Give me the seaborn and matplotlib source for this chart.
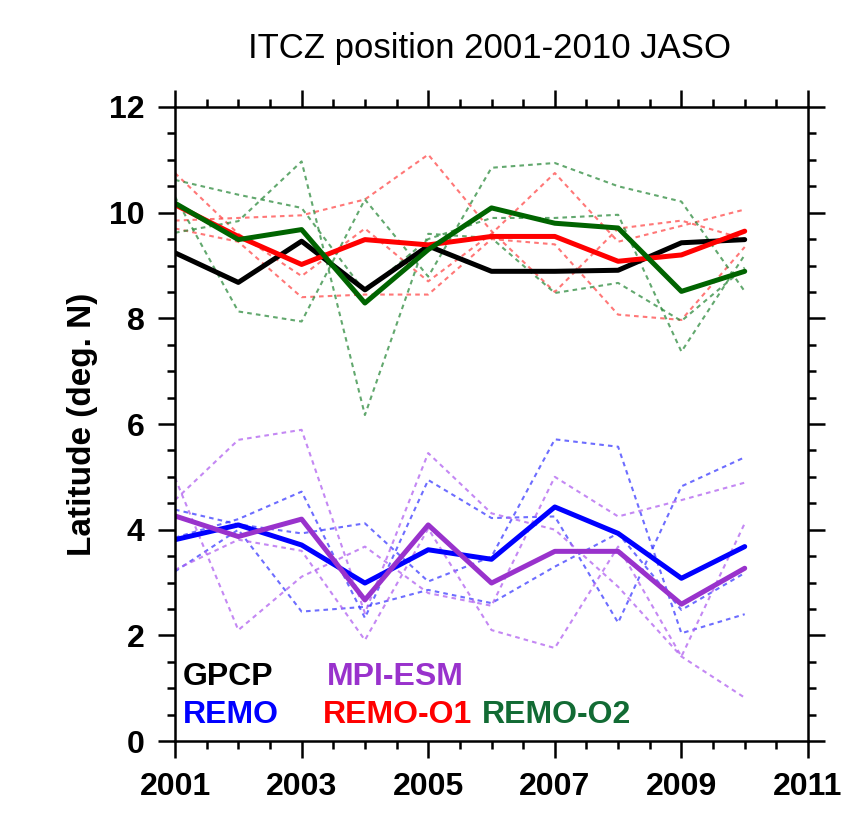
import matplotlib
matplotlib.use("Agg")
import matplotlib.pyplot as plt
from matplotlib.ticker import FixedLocator, MultipleLocator
import pandas as pd
import seaborn as sns

# years of JASO means
years = list(range(2001, 2011))
xticks = [2001, 2003, 2005, 2007, 2009, 2011]

# ensemble means (thick lines)
gpcp = [9.24, 8.68, 9.46, 8.54, 9.37, 8.89, 8.89, 8.91, 9.43, 9.49]
remo = [3.81, 4.09, 3.71, 2.99, 3.62, 3.44, 4.43, 3.93, 3.08, 3.68]
mpi_esm = [4.26, 3.87, 4.20, 2.67, 4.09, 2.99, 3.59, 3.59, 2.59, 3.27]
remo_o1 = [10.15, 9.55, 9.02, 9.49, 9.39, 9.55, 9.55, 9.08, 9.20, 9.65]
remo_o2 = [10.18, 9.49, 9.68, 8.29, 9.30, 10.09, 9.80, 9.71, 8.51, 8.89]

# single members (thin dashed lines)
remo_members = [
    [4.38, 4.10, 3.93, 4.12, 3.02, 3.49, 5.71, 5.57, 2.04, 2.40],
    [3.85, 4.20, 4.72, 2.33, 4.94, 4.22, 4.25, 2.24, 4.82, 5.37],
    [3.21, 4.00, 2.45, 2.54, 2.86, 2.61, 3.30, 3.93, 2.48, 3.18],
]
mpi_members = [
    [4.56, 5.70, 5.89, 2.42, 5.45, 4.31, 4.00, 2.92, 1.60, 0.82],
    [4.98, 2.10, 3.11, 3.68, 2.80, 2.56, 5.00, 4.25, 4.56, 4.89],
    [3.24, 3.81, 3.60, 1.91, 4.02, 2.10, 1.76, 3.68, 1.60, 4.12],
]
o1_members = [
    [10.75, 9.60, 8.80, 9.70, 8.70, 9.60, 10.75, 9.45, 9.75, 10.06],
    [9.85, 9.90, 9.95, 10.25, 11.10, 9.65, 8.50, 9.70, 9.85, 9.50],
    [9.70, 9.45, 8.40, 8.45, 8.45, 9.50, 9.40, 8.07, 7.97, 9.35],
]
o2_members = [
    [10.62, 10.34, 10.09, 8.50, 9.50, 9.90, 9.90, 9.96, 7.37, 9.20],
    [9.62, 9.84, 10.97, 6.17, 9.60, 9.52, 8.48, 8.67, 7.95, 8.96],
    [10.30, 8.13, 7.94, 10.25, 8.79, 10.85, 10.94, 10.50, 10.21, 8.51],
]

c_gpcp = "black"
c_remo = "#0000ff"
c_mpi = "#9932cc"
c_o1 = "#ff0000"
c_o2 = "#006400"

sns.set_theme(style="ticks")
plt.rcParams["font.family"] = ["Liberation Sans", "DejaVu Sans"]
plt.rcParams["text.color"] = "black"
plt.rcParams["axes.labelcolor"] = "black"

fig = plt.figure(figsize=(8.43, 8.18), dpi=100)
ax = fig.add_axes([0.2076, 0.0941, 0.7509, 0.7751])

# dashed members first
dash_sets = [
    (remo_members, "#3c3cff"),
    (mpi_members, "#b060f0"),
    (o1_members, "#ff4a4a"),
    (o2_members, "#2e8b3e"),
]
for members, col in dash_sets:
    for vals in members:
        df = pd.DataFrame({"year": years, "lat": vals})
        sns.lineplot(data=df, x="year", y="lat", ax=ax, color=col, lw=1.5,
                     alpha=0.75, legend=False)
        ax.lines[-1].set_dashes((2.2, 2.0))

# thick mean lines
for vals, col in [(gpcp, c_gpcp), (remo, c_remo), (mpi_esm, c_mpi),
                  (remo_o1, c_o1), (remo_o2, c_o2)]:
    df = pd.DataFrame({"year": years, "lat": vals})
    sns.lineplot(data=df, x="year", y="lat", ax=ax, color=col, lw=3.6,
                 legend=False)

ax.set_xlim(2001, 2011)
ax.set_ylim(0, 12)
ax.xaxis.set_major_locator(FixedLocator(xticks))
ax.xaxis.set_minor_locator(MultipleLocator(0.5))
ax.yaxis.set_major_locator(MultipleLocator(2))
ax.yaxis.set_minor_locator(MultipleLocator(0.5))
ax.tick_params(which="both", direction="out", top=True, right=True,
               width=1.8, colors="black")
ax.tick_params(which="major", length=12, labelsize=23, pad=10)
ax.tick_params(which="minor", length=6)
for lab in ax.get_xticklabels() + ax.get_yticklabels():
    lab.set_fontweight("bold")
for sp in ax.spines.values():
    sp.set_visible(True)
    sp.set_linewidth(1.8)
    sp.set_color("black")

ax.set_xlabel("")
ax.set_ylabel("Latitude (deg. N)", fontsize=24, fontweight="bold", labelpad=8)
fig.text(0.581, 0.941, "ITCZ position 2001-2010 JASO", fontsize=25,
         ha="center", va="center")

# in-plot labels
lab_kw = dict(fontsize=23, fontweight="bold", va="baseline", ha="left")
ax.text(2001.13, 1.06, "GPCP", color=c_gpcp, **lab_kw)
ax.text(2003.4, 1.06, "MPI-ESM", color=c_mpi, **lab_kw)
ax.text(2001.13, 0.34, "REMO", color=c_remo, **lab_kw)
ax.text(2003.33, 0.34, "REMO-O1", color=c_o1, **lab_kw)
ax.text(2005.85, 0.34, "REMO-O2", color="#126b34", **lab_kw)

fig.savefig("out.png", dpi=100)
plt.close(fig)
